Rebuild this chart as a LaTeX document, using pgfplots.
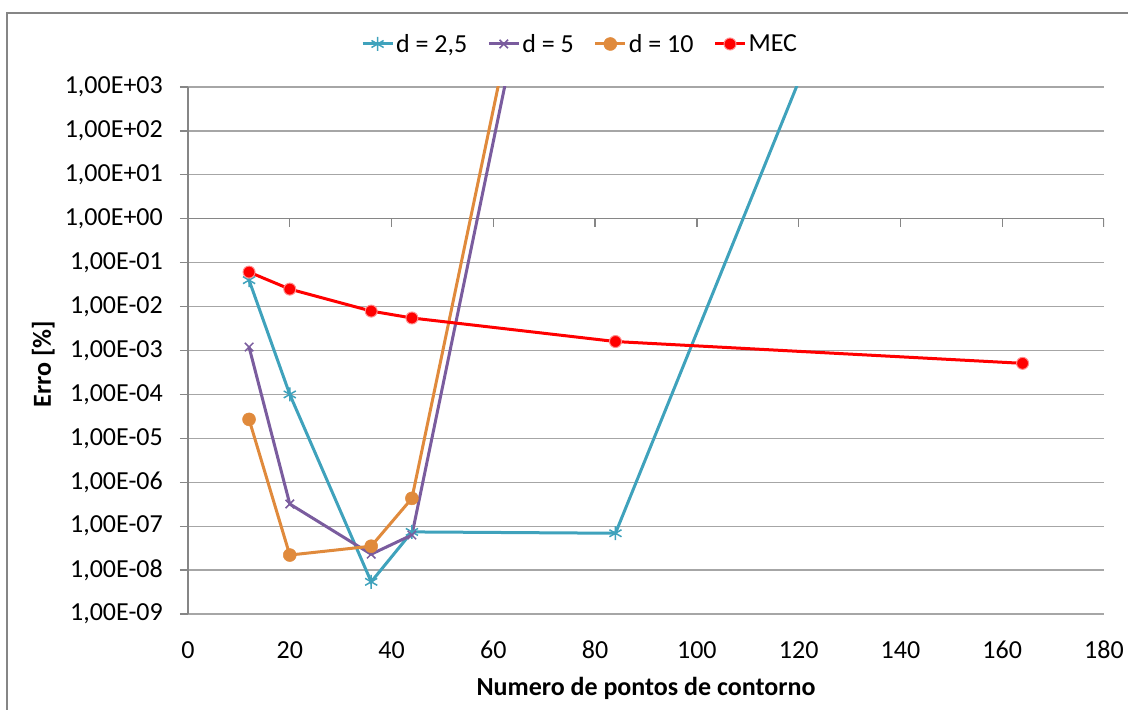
\documentclass[border=0pt]{standalone}
\usepackage{fontspec}
\setmainfont{Carlito}
\usepackage{pgfplots}
\pgfplotsset{compat=1.18}
\definecolor{cteal}{HTML}{3FA2BC}
\definecolor{cpurple}{HTML}{7A5C9E}
\definecolor{corange}{HTML}{E08A3C}
\definecolor{cred}{HTML}{FF0000}
\definecolor{gridgray}{HTML}{A6A6A6}
\definecolor{axisgray}{HTML}{868686}
\newcommand{\bigfont}{\fontsize{26}{31}\selectfont}
\begin{document}
\begin{tikzpicture}
\useasboundingbox (0,0) rectangle (1128pt,710pt);
\draw[axisgray, line width=1.5pt] (7pt,-20pt) rectangle (1160pt,697pt);
\begin{axis}[
  at={(188pt,96pt)}, anchor=south west,
  scale only axis, width=916pt, height=527pt,
  xmin=0, xmax=180, ymode=log, ymin=1e-9, ymax=1e3,
  axis lines=left,
  axis line style={-, draw=axisgray, line width=1.3pt},
  x axis line style={draw=none},
  xtick={0,20,40,60,80,100,120,140,160,180},
  xticklabels={0,20,40,60,80,100,120,140,160,180},
  xtick style={draw=none},
  ytick={1e-9,1e-8,1e-7,1e-6,1e-5,1e-4,1e-3,1e-2,1e-1,1e0,1e1,1e2,1e3},
  yticklabels={{1,00E-09},{1,00E-08},{1,00E-07},{1,00E-06},{1,00E-05},{1,00E-04},{1,00E-03},{1,00E-02},{1,00E-01},{1,00E+00},{1,00E+01},{1,00E+02},{1,00E+03}},
  ytick style={draw=axisgray, line width=1.3pt},
  minor ytick={}, yminorticks=false,
  tick align=outside, major tick length=8pt,
  ymajorgrids, grid style={draw=gridgray, line width=1.3pt},
  tick label style={font=\bigfont},
  yticklabel style={inner sep=0pt, xshift=-17pt},
  xticklabel style={inner sep=0pt, yshift=-19pt},
  xlabel={\textbf{Numero de pontos de contorno}},
  ylabel={\textbf{Erro [\%]}},
  xlabel style={font=\bigfont, at={(axis description cs:0.5,0)}, anchor=center, yshift=-74pt},
  ylabel style={font=\bigfont, at={(axis description cs:-0.158,0.474)}, anchor=center},
  legend style={draw=none, fill=none, font=\bigfont, legend columns=4,
    at={(axis description cs:0.428,1.0816)}, anchor=center,
    /tikz/every even column/.append style={column sep=18pt}},
  legend image code/.code={\draw[mark repeat=2,mark phase=2] plot coordinates {(0pt,0pt)(15pt,0pt)(30pt,0pt)};},
  clip=true,
]
\draw[axisgray, line width=1.3pt] (axis cs:0,1) -- (axis cs:180,1);
\pgfplotsinvokeforeach{0,20,40,60,80,100,120,140,160,180}{
  \draw[axisgray, line width=1.3pt] (axis cs:#1,1) -- ++(0pt,-8pt);
}
\addplot[cteal, line width=3pt, mark=asterisk, mark size=7pt, mark options={line width=1.5pt}]
  coordinates {(12,0.04)(20,1.0e-4)(36,5.4e-9)(44,7.4e-8)(84,6.9e-8)(164,5e15)};
\addlegendentry{d = 2,5}
\addplot[cpurple, line width=3pt, mark=x, mark size=6pt, mark options={line width=1.5pt}]
  coordinates {(12,1.2e-3)(20,3.2e-7)(36,2.3e-8)(44,6.3e-8)(84,1.6e15)};
\addlegendentry{d = 5}
\addplot[corange, line width=3pt, mark=*, mark size=6.5pt, mark options={fill=corange, draw=corange, line width=0.5pt}]
  coordinates {(12,2.7e-5)(20,2.2e-8)(36,3.5e-8)(44,4.3e-7)(84,6e15)};
\addlegendentry{d = 10}
\addplot[cred, line width=3pt, mark=*, mark size=6pt, mark options={fill=cred, draw=red!45!white, line width=1pt}]
  coordinates {(12,0.061)(20,0.025)(36,0.0079)(44,0.0055)(84,0.0016)(164,5.1e-4)};
\addlegendentry{MEC}
\end{axis}
\end{tikzpicture}
\end{document}
